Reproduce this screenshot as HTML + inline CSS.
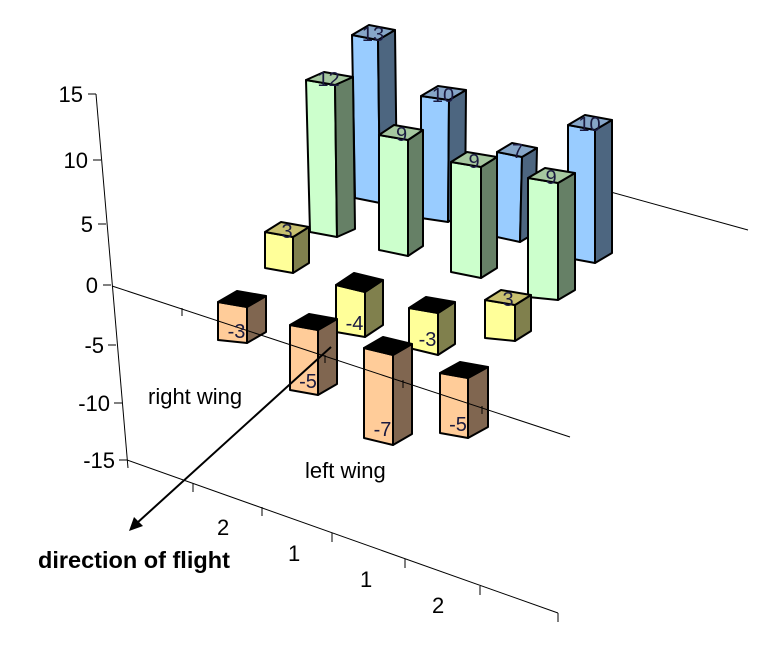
<!DOCTYPE html>
<html><head><meta charset="utf-8"><style>
html,body{margin:0;padding:0;background:#fff}
svg{display:block}
text{font-family:"Liberation Sans",Arial,sans-serif;font-size:22px;fill:#000}
.v{font-size:20px;fill:#1a1a40;text-anchor:middle}
</style></head><body>
<svg width="774" height="656" viewBox="0 0 774 656" xmlns="http://www.w3.org/2000/svg">
<g stroke="#000" stroke-width="1" fill="none">
<line x1="96" y1="94" x2="128" y2="468"/>
<line x1="88" y1="94" x2="96" y2="94"/>
<line x1="93" y1="160" x2="101" y2="160"/>
<line x1="98" y1="224" x2="106" y2="224"/>
<line x1="103" y1="285" x2="111" y2="285"/>
<line x1="108" y1="345" x2="116" y2="345"/>
<line x1="114" y1="403" x2="122" y2="403"/>
<line x1="119" y1="460" x2="127" y2="460"/>
<line x1="127" y1="460" x2="558" y2="613"/>
<line x1="193" y1="483" x2="193" y2="492"/>
<line x1="262" y1="507" x2="262" y2="516"/>
<line x1="332" y1="533" x2="332" y2="542"/>
<line x1="405" y1="559" x2="405" y2="568"/>
<line x1="480" y1="586" x2="480" y2="595"/>
<line x1="558" y1="613" x2="558" y2="622"/>
<line x1="560" y1="178" x2="748" y2="230"/>
</g>
<g text-anchor="end">
<text x="83" y="102">15</text><text x="88" y="168">10</text><text x="93" y="232">5</text>
<text x="98" y="293">0</text><text x="104" y="353">-5</text><text x="110" y="411">-10</text><text x="115" y="468">-15</text>
</g>
<text x="217" y="535">2</text><text x="288" y="561">1</text><text x="360" y="587">1</text><text x="432" y="613">2</text>
<g stroke="#000" stroke-width="2" stroke-linejoin="round" id="bars"></g>
<g stroke="#000" stroke-width="1">
<line x1="112" y1="286" x2="570" y2="437"/>
<line x1="182" y1="308" x2="182" y2="316"/>
<line x1="325" y1="355" x2="325" y2="363"/>
<line x1="403" y1="380" x2="403" y2="388"/>
<line x1="482" y1="406" x2="482" y2="414"/>
</g>
<line x1="331" y1="347" x2="137" y2="523" stroke="#000" stroke-width="2"/>
<polygon points="129,531 134,517 143,526" fill="#000"/>
<text x="148" y="404">right wing</text>
<text x="305" y="478">left wing</text>
<text x="38" y="568" style="font-weight:bold;font-size:23.5px">direction of flight</text>
<g id="labels"></g>
<script>
var B=[
[[352,35],[378,40],[355,198],[380,203],[17,-10],'b','13','t'],
[[421,96],[449,100],[421,218],[448,222],[17,-10],'b','10','t'],
[[497,152],[522,157],[497,237],[520,242],[15,-9],'b','7','t'],
[[568,125],[595,130],[568,258],[595,263],[17,-10],'b','10','t'],
[[306,80],[335,85],[310,232],[337,237],[18,-8],'g','12','t'],
[[379,135],[408,140],[379,250],[408,256],[15,-10],'g','9','t'],
[[451,162],[481,167],[451,272],[481,278],[16,-10],'g','9','t'],
[[528,178],[558,183],[528,297],[558,300],[17,-10],'g','9','t'],
[[265,232],[293,237],[265,268],[293,273],[16,-10],'y','3','t'],
[[485,300],[515,305],[485,338],[515,341],[16,-10],'y','3','t'],
[[218,302],[247,307],[218,340],[247,343],[19,-11],'o','-3','b'],
[[336,285],[365,292],[336,332],[365,337],[18,-12],'yn','-4','b'],
[[409,308],[438,313],[409,348],[438,355],[17,-11],'yn','-3','b'],
[[290,325],[318,330],[290,390],[318,395],[19,-11],'o','-5','b'],
[[364,348],[393,355],[364,438],[393,445],[19,-11],'o','-7','b'],
[[440,373],[468,378],[440,433],[468,438],[20,-11],'o','-5','b']
];
var C={b:['#99ccff','#4d6680','#86a6c8'],g:['#ccffcc','#668066','#a6c8a0'],y:['#ffff99','#80804d','#c8c070'],yn:['#ffff99','#80804d','#000'],o:['#ffcc99','#806650','#000']};
var g=document.getElementById('bars'),L=document.getElementById('labels'),ns='http://www.w3.org/2000/svg';
function P(pts,f){var p=document.createElementNS(ns,'polygon');p.setAttribute('points',pts.map(function(q){return q.join(',')}).join(' '));p.setAttribute('fill',f);g.appendChild(p);}
B.forEach(function(b){var tl=b[0],tr=b[1],bl=b[2],br=b[3],d=b[4],c=C[b[5]];
function a(p){return [p[0]+d[0],p[1]+d[1]];}
P([tl,tr,br,bl],c[0]);P([tr,a(tr),a(br),br],c[1]);P([tl,tr,a(tr),a(tl)],c[2]);
var t=document.createElementNS(ns,'text');t.setAttribute('class','v');
if(b[7]=='t'){t.setAttribute('x',(tl[0]+tr[0])/2+8);t.setAttribute('y',tl[1]+6);}
else{t.setAttribute('x',(tl[0]+tr[0])/2+4);t.setAttribute('y',bl[1]-2);}
t.textContent=b[6];L.appendChild(t);});
</script>
</svg>
</body></html>
